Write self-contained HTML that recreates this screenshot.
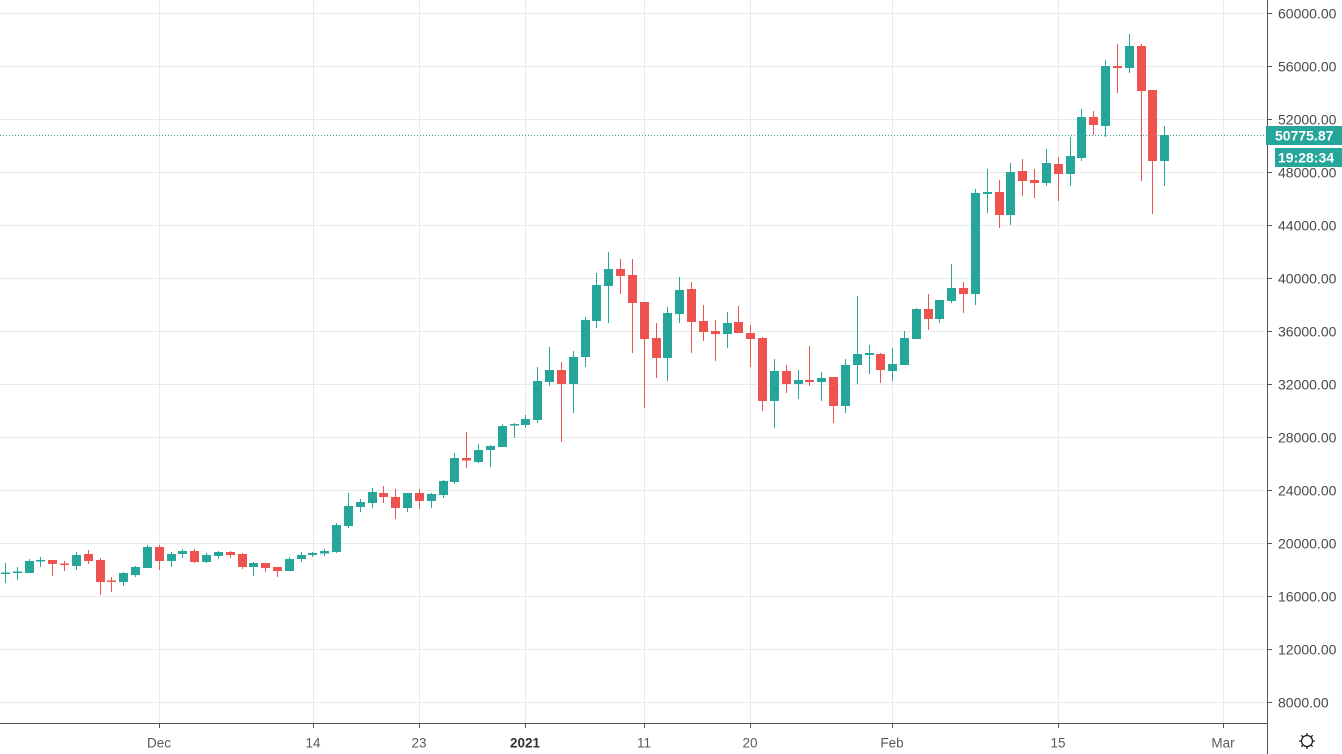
<!DOCTYPE html>
<html><head><meta charset="utf-8"><style>
html,body{margin:0;padding:0;background:#fff;}
svg{display:block;}
.pl{font-family:"Liberation Sans",sans-serif;font-size:14px;fill:#4a4a4a;}
.tl{font-family:"Liberation Sans",sans-serif;font-size:13.5px;fill:#5a5a5a;text-anchor:middle;}
</style></head><body>
<svg width="1342" height="754" viewBox="0 0 1342 754" xmlns="http://www.w3.org/2000/svg">
<rect width="1342" height="754" fill="#fff"/>
<g stroke="#e8eaed" stroke-width="1">
<path d="M0 13.5H1267M0 66.5H1267M0 119.5H1267M0 172.5H1267M0 225.5H1267M0 278.5H1267M0 331.5H1267M0 384.5H1267M0 437.5H1267M0 490.5H1267M0 543.5H1267M0 596.5H1267M0 649.5H1267M0 702.5H1267"/>
<path d="M159.5 0V723M313.5 0V723M419.5 0V723M525.5 0V723M644.5 0V723M750.5 0V723M892.5 0V723M1058.5 0V723M1223.5 0V723"/>
</g>
<path d="M0 135.5H1267" stroke="#26a69a" stroke-width="1" stroke-dasharray="1 2"/>
<path stroke="#26a69a" stroke-width="1" fill="none" d="M5.5 563V583M17.5 567V580M29.5 559V573M40.5 557V567M76.5 552V570M123.5 572V586M135.5 566V577M147.5 545V568M171.5 552V567M182.5 549V558M206.5 553V563M218.5 551V559M253.5 562V576M289.5 557V571M301.5 552V562M312.5 552V557M324.5 549V556M336.5 523V553M348.5 493V528M360.5 499V512M372.5 488V508M407.5 493V512M431.5 493V508M443.5 480V498M454.5 453V484M478.5 444V463M490.5 445V467M502.5 424V447M514.5 423V438M525.5 415V428M537.5 367V423M549.5 347V386M573.5 351V413M585.5 317V367M596.5 273V328M608.5 252V323M667.5 307V381M679.5 277V323M727.5 312V348M774.5 359V428M798.5 370V399M821.5 372V401M845.5 359V413M857.5 296V384M869.5 345V374M892.5 348V381M904.5 331V365M916.5 308V339M939.5 300V323M951.5 264V303M975.5 189V305M987.5 169V213M1010.5 163V225M1046.5 149V186M1070.5 137V186M1081.5 109V161M1105.5 60V137M1129.5 34V73M1164.5 126V186"/>
<path stroke="#ef5350" stroke-width="1" fill="none" d="M52.5 560V576M64.5 561V571M88.5 550V564M100.5 558V595M111.5 577V592M159.5 545V570M194.5 549V563M230.5 551V558M242.5 553V569M265.5 563V572M277.5 567V577M383.5 486V503M395.5 489V519M419.5 489V509M466.5 432V468M561.5 362V442M620.5 259V294M632.5 259V353M644.5 302V408M656.5 323V378M691.5 282V353M703.5 305V341M715.5 320V361M738.5 306V333M750.5 325V367M762.5 337V411M786.5 365V393M809.5 346V386M833.5 377V423M880.5 353V383M928.5 294V330M963.5 282V313M999.5 180V228M1022.5 159V196M1034.5 169V198M1058.5 157V201M1093.5 111V135M1117.5 44V93M1141.5 44V181M1152.5 90V214"/>
<path fill="#26a69a" d="M1 572.5h9v1.5h-9zM13 571.5h9v1.5h-9zM25 561h9v12h-9zM36 560h9v1.5h-9zM72 555h9v11h-9zM119 573h9v9h-9zM131 567h9v8h-9zM143 547h9v21h-9zM167 554h9v7h-9zM178 551h9v3h-9zM202 555h9v7h-9zM214 552h9v4h-9zM249 563h9v4h-9zM285 559h9v12h-9zM297 555h9v4h-9zM308 553h9v2h-9zM320 551h9v2.5h-9zM332 525h9v27h-9zM344 506h9v20h-9zM356 502h9v5h-9zM368 492h9v11h-9zM403 493h9v15h-9zM427 494h9v7h-9zM439 481h9v14h-9zM450 458h9v24h-9zM474 450h9v12h-9zM486 446h9v4h-9zM498 426h9v21h-9zM510 424h9v1.5h-9zM521 419h9v6h-9zM533 381h9v39h-9zM545 370h9v12h-9zM569 357h9v27h-9zM581 320h9v37h-9zM592 285h9v36h-9zM604 269h9v17h-9zM663 313h9v45h-9zM675 290h9v24h-9zM723 323h9v11h-9zM770 371h9v30h-9zM794 380h9v4h-9zM817 378h9v4h-9zM841 365h9v41h-9zM853 354h9v11h-9zM865 353h9v2h-9zM888 364h9v7h-9zM900 338h9v27h-9zM912 309h9v30h-9zM935 300h9v19h-9zM947 288h9v13h-9zM971 193h9v101h-9zM983 192h9v2h-9zM1006 172h9v43h-9zM1042 163h9v20h-9zM1066 156h9v18h-9zM1077 117h9v41h-9zM1101 66h9v60h-9zM1125 46h9v22h-9zM1160 135h9v26h-9z"/>
<path fill="#ef5350" d="M48 560h9v4h-9zM60 563.5h9v1.5h-9zM84 554h9v7h-9zM96 560h9v22h-9zM107 580.5h9v1.5h-9zM155 547h9v14h-9zM190 551h9v11h-9zM226 552h9v3h-9zM238 554h9v13h-9zM261 563h9v5h-9zM273 567h9v4h-9zM379 493h9v4h-9zM391 497h9v11h-9zM415 493h9v8h-9zM462 458h9v2.5h-9zM557 370h9v14h-9zM616 269h9v7h-9zM628 275h9v28h-9zM640 302h9v37h-9zM652 338h9v20h-9zM687 289h9v33h-9zM699 321h9v11h-9zM711 331h9v3h-9zM734 322h9v11h-9zM746 333h9v6h-9zM758 338h9v63h-9zM782 371h9v13h-9zM805 380h9v2h-9zM829 377h9v29h-9zM876 354h9v16h-9zM924 309h9v10h-9zM959 288h9v6h-9zM995 192h9v23h-9zM1018 171h9v10h-9zM1030 180h9v3h-9zM1054 164h9v10h-9zM1089 117h9v8h-9zM1113 66h9v2h-9zM1137 46h9v45h-9zM1148 90h9v71h-9z"/>
<g stroke="#50535e" stroke-width="1">
<path d="M0 723.5H1267.5M1267.5 0V754"/>
<path d="M1267 13.5H1272M1267 66.5H1272M1267 119.5H1272M1267 172.5H1272M1267 225.5H1272M1267 278.5H1272M1267 331.5H1272M1267 384.5H1272M1267 437.5H1272M1267 490.5H1272M1267 543.5H1272M1267 596.5H1272M1267 649.5H1272M1267 702.5H1272"/>
<path d="M159.5 723V728M313.5 723V728M419.5 723V728M525.5 723V728M644.5 723V728M750.5 723V728M892.5 723V728M1058.5 723V728M1223.5 723V728"/>
</g>
<g class="pl">
<text x="1278" y="18.5">60000.00</text>
<text x="1278" y="71.5">56000.00</text>
<text x="1278" y="124.5">52000.00</text>
<text x="1278" y="177.5">48000.00</text>
<text x="1278" y="230.5">44000.00</text>
<text x="1278" y="283.5">40000.00</text>
<text x="1278" y="336.5">36000.00</text>
<text x="1278" y="389.5">32000.00</text>
<text x="1278" y="442.5">28000.00</text>
<text x="1278" y="495.5">24000.00</text>
<text x="1278" y="548.5">20000.00</text>
<text x="1278" y="601.5">16000.00</text>
<text x="1278" y="654.5">12000.00</text>
<text x="1278" y="707.5">8000.00</text>
</g>
<rect x="1266" y="126" width="76" height="19" fill="#26a69a"/>
<text x="1275" y="140.5" font-family="Liberation Sans, sans-serif" font-size="14" font-weight="bold" fill="#fff">50775.87</text>
<rect x="1275" y="148" width="67" height="19" fill="#26a69a"/>
<text x="1278" y="162.5" font-family="Liberation Sans, sans-serif" font-size="14" font-weight="bold" fill="#fff">19:28:34</text>
<g class="tl">
<text x="159" y="747.5">Dec</text>
<text x="313" y="747.5">14</text>
<text x="419" y="747.5">23</text>
<text x="525" y="747.5" font-weight="bold" fill="#333">2021</text>
<text x="644" y="747.5">11</text>
<text x="750" y="747.5">20</text>
<text x="892" y="747.5">Feb</text>
<text x="1058" y="747.5">15</text>
<text x="1223" y="747.5">Mar</text>
</g>
<g stroke="#222" stroke-width="1.3" fill="none">
<circle cx="1307" cy="741" r="5.5"/>
<path d="M1307 733V735.5M1307 746.5V749M1299 741H1301.5M1312.5 741H1315M1301.3 735.3L1303.1 737.1M1310.9 744.9L1312.7 746.7M1312.7 735.3L1310.9 737.1M1303.1 744.9L1301.3 746.7"/>
</g>
</svg>
</body></html>
